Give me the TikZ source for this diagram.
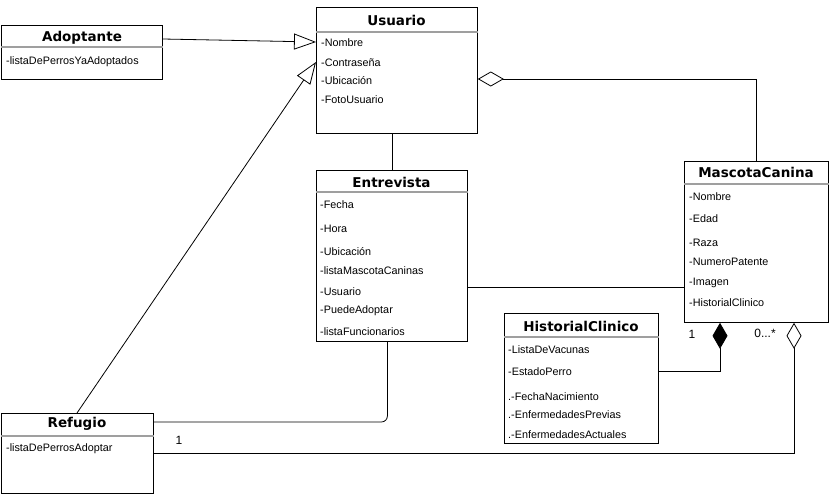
\documentclass[tikz,border=0pt]{standalone}
\usepackage{fontspec}
\setmainfont{Liberation Sans}
\newfontfamily\tfont{DejaVu Sans}
\usetikzlibrary{arrows.meta,calc}
\begin{document}
\begin{tikzpicture}[x=1pt,y=-1pt,
  cls/.style={draw,line width=0.8pt,anchor=north west,inner sep=0pt},
  ttl/.style={font=\tfont\bfseries\fontsize{13.5}{15}\selectfont,inner sep=0pt},
  att/.style={font=\fontsize{10.8}{12}\selectfont,anchor=west,inner sep=0pt},
  lbl/.style={font=\fontsize{12}{14}\selectfont,inner sep=0pt},
  hdr/.style={draw=gray!75,line width=1.3pt},
  con/.style={line width=0.8pt},
  gen/.style={con,-{Triangle[open,length=22pt,width=16pt]}},
  agg/.style={con,-{Diamond[open,length=26pt,width=15pt]}},
  cmp/.style={con,-{Diamond[length=26pt,width=15pt]}}]
\useasboundingbox (0,0) rectangle (829,495);

% boxes
\node[cls,minimum width=161pt,minimum height=54pt] (adop) at (1,25) {};
\node[cls,minimum width=161pt,minimum height=126pt] (usu) at (316,7) {};
\node[cls,minimum width=151pt,minimum height=171pt] (ent) at (316,170) {};
\node[cls,minimum width=144pt,minimum height=161pt] (mas) at (684,161) {};
\node[cls,minimum width=154pt,minimum height=130pt] (his) at (504,313) {};
\node[cls,minimum width=152pt,minimum height=80pt] (ref) at (1,413) {};

% header separators
\foreach \b/\h in {adop/22,usu/25,ent/22,mas/23,his/24,ref/23}{
  \draw[hdr] ($(\b.north west)+(0,\h)$) -- ($(\b.north east)+(0,\h)$);
}

% titles
\node[ttl] (adopt) at (82,38) {Adoptante};
\node[ttl] (usut) at (396.5,20) {Usuario};
\node[ttl] (entt) at (391.5,182) {Entrevista};
\node[ttl] (mast) at (756,172) {MascotaCanina};
\node[ttl] (hist) at (581,326) {HistorialClinico};
\node[ttl] (reft) at (77,424) {Refugio};

% attributes
\node[att] (a1) at (6,62) {-listaDePerrosYaAdoptados};

\node[att] (u1) at (321,43) {-Nombre};
\node[att] (u2) at (321,63) {-Contraseña};
\node[att] (u3) at (321,81) {-Ubicación};
\node[att] (u4) at (321,100) {-FotoUsuario};

\node[att] (e1) at (320,205) {-Fecha};
\node[att] (e2) at (320,229) {-Hora};
\node[att] (e3) at (320,252) {-Ubicación};
\node[att] (e4) at (320,271) {-listaMascotaCaninas};
\node[att] (e5) at (320,292) {-Usuario};
\node[att] (e6) at (320,311) {-PuedeAdoptar};
\node[att] (e7) at (320,332) {-listaFuncionarios};

\node[att] (m1) at (689,197) {-Nombre};
\node[att] (m2) at (689,219) {-Edad};
\node[att] (m3) at (689,243) {-Raza};
\node[att] (m4) at (689,262) {-NumeroPatente};
\node[att] (m5) at (689,283) {-Imagen};
\node[att] (m6) at (689,303) {-HistorialClinico};

\node[att] (h1) at (508,350) {-ListaDeVacunas};
\node[att] (h2) at (508,372) {-EstadoPerro};
\node[att] (h3) at (508,397) {.-FechaNacimiento};
\node[att] (h4) at (508,415) {.-EnfermedadesPrevias};
\node[att] (h5) at (508,435) {.-EnfermedadesActuales};

\node[att] (r1) at (6,449) {-listaDePerrosAdoptar};

% connectors
\draw[gen] ($(adop.north east)+(0,14)$) -- ($(usu.north west)+(0,35)$);
\draw[gen] ($(ref.north west)+(76,0)$) -- ($(usu.north west)+(0,55)$);
\draw[con] (ent.north) -- (ent.north |- usu.south);
\draw[agg] (mas.north) |- ($(usu.north east)+(0,72)$);
\draw[con] ($(ent.north east)+(0,117)$) -- (mas.west |- {$(ent.north east)+(0,117)$});
\draw[con,rounded corners=6pt] ($(ent.south)+(-4.5,0)$) |- ($(ref.north east)+(0,9)$);
\draw[cmp] ($(his.north east)+(0,58)$) -| ($(mas.south west)+(36,0)$);
\draw[agg] ($(ref.north east)+(0,40)$) -| ($(mas.south west)+(110,0)$);

% multiplicities
\node[lbl] (l1) at (692,334) {1};
\node[lbl] (l2) at (765,333) {0...*};
\node[lbl] (l3) at (179,440) {1};
\end{tikzpicture}
\end{document}
